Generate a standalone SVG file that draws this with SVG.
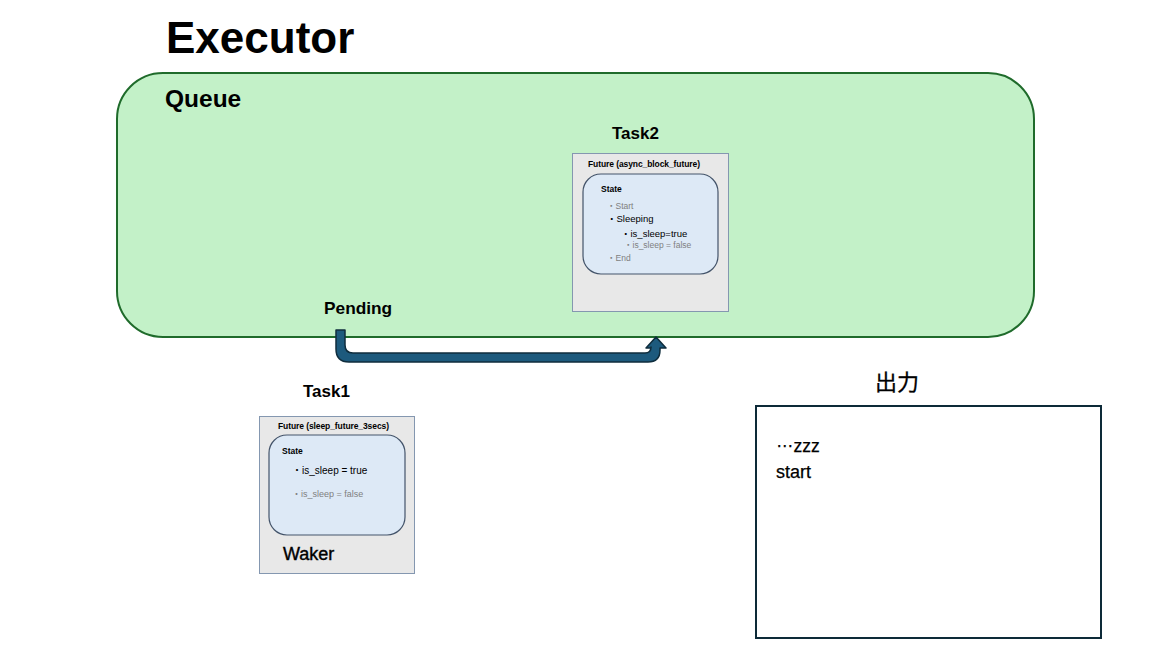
<svg xmlns="http://www.w3.org/2000/svg" width="1165" height="654" viewBox="0 0 1165 654">
<style>
.t{font-family:"Liberation Sans","Noto Sans CJK JP",sans-serif;fill:#000}
.b{font-weight:bold}
.g{fill:#7f7f7f}
.fut{fill:#e8e8e8;stroke:#8497b0;stroke-width:1}
.st{fill:#dde9f6;stroke:#44546a;stroke-width:1.2}
</style>
<rect width="1165" height="654" fill="#ffffff"/>
<text class="t b" x="166" y="53" font-size="44">Executor</text>
<g id="queue">
<rect x="117" y="73" width="917" height="264" rx="46" ry="46" fill="#c3f1c8" stroke="#1f6b2b" stroke-width="2"/>
<text class="t b" x="165" y="107" font-size="24.5">Queue</text>
<text class="t b" x="324" y="314" font-size="17.3">Pending</text>
</g>
<g id="task2">
<text class="t b" x="612" y="139" font-size="17">Task2</text>
<rect class="fut" x="572.5" y="153.5" width="156" height="158"/>
<text class="t" x="588" y="167" font-size="8.5" textLength="112" font-weight="bold">Future (async_block_future)</text>
<rect class="st" x="583" y="174" width="135" height="100" rx="18" ry="18"/>
<text class="t b" x="601" y="192" font-size="8.5">State</text>
<text class="t g" x="607" y="209" font-size="8.5">・Start</text>
<text class="t" x="607" y="222" font-size="9.5">・Sleeping</text>
<text class="t" x="621" y="237" font-size="9.5">・is_sleep=true</text>
<text class="t g" x="624" y="248" font-size="8.5">・is_sleep = false</text>
<text class="t g" x="607" y="261" font-size="8.5">・End</text>
</g>
<g id="task1">
<text class="t b" x="303" y="397" font-size="17">Task1</text>
<rect class="fut" x="259.5" y="416.5" width="155" height="157"/>
<text class="t" x="278" y="429" font-size="8.5" textLength="111" font-weight="bold">Future (sleep_future_3secs)</text>
<rect class="st" x="269" y="435" width="136" height="100" rx="18" ry="18"/>
<text class="t b" x="282" y="454" font-size="8.5">State</text>
<text class="t" x="292" y="474" font-size="10">・is_sleep = true</text>
<text class="t g" x="292" y="497" font-size="9">・is_sleep = false</text>
<text class="t" x="283" y="560" font-size="18" stroke="#000" stroke-width="0.4">Waker</text>
</g>
<g id="output">
<text class="t" x="875" y="390" font-size="22" stroke="#000" stroke-width="0.3">出力</text>
<rect x="756" y="406" width="345" height="232" fill="#ffffff" stroke="#0d2a38" stroke-width="2"/>
<text class="t" x="776" y="452" font-size="17.5" stroke="#000" stroke-width="0.25"><tspan dy="-5">…</tspan><tspan dy="5">zzz</tspan></text>
<text class="t" x="776" y="478" font-size="18" stroke="#000" stroke-width="0.25">start</text>
</g>
<g id="connectors">
<path d="M336,330 H345 V345 Q345,353 353,353 H645 Q651,353 651,347 V348 H646 L656,337 L666,348 H660 V350 Q660,362 648,362 H349 Q336,362 336,349 Z" fill="#1d5a7d" stroke="#0f2d3d" stroke-width="1.5" stroke-linejoin="round"/>
</g>
</svg>
